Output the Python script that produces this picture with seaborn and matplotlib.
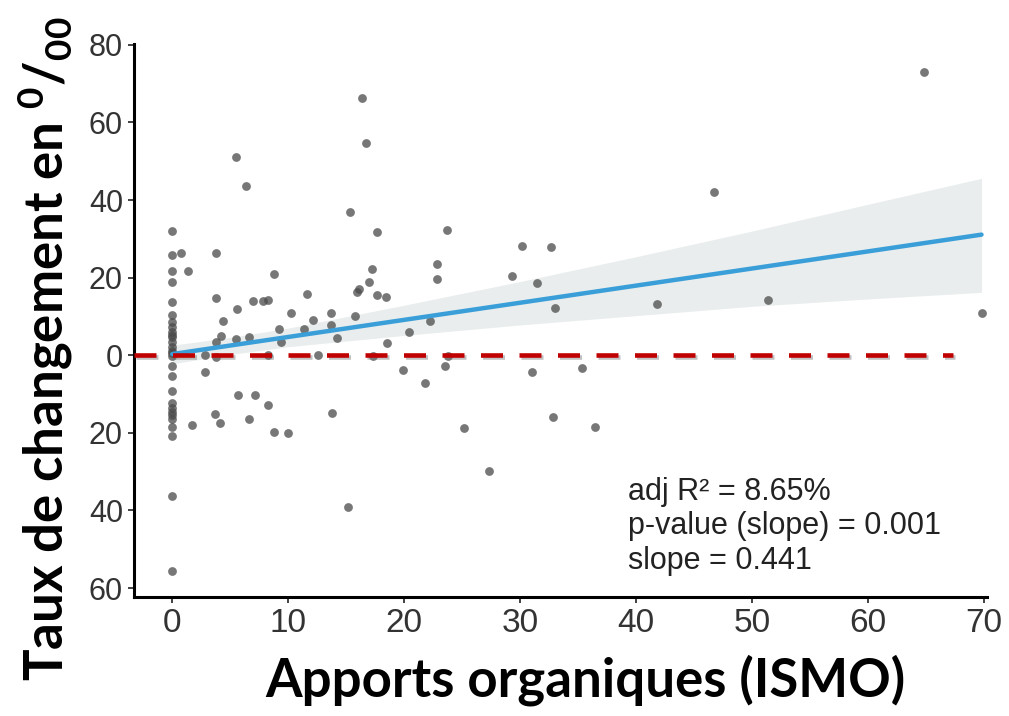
import matplotlib
matplotlib.use("Agg")
import matplotlib.pyplot as plt
import matplotlib.patheffects as pe
from matplotlib.ticker import FuncFormatter
import pandas as pd
import seaborn as sns

# Parcelles : apports organiques (ISMO) et taux de changement (pour mille)
apports = [
    0.0, 0.0, 0.0, 0.0, 0.0, 0.0, 0.0, 0.0, 0.0, 0.0, 0.0, 0.0, 0.0, 0.0,
    0.0, 0.0, 0.0, 0.0, 0.0, 0.0, 0.0, 0.0, 0.0, 0.0, 0.0, 0.0, 0.0, 0.0,
    0.75, 1.4, 1.7, 2.8, 2.8, 3.8, 5.5, 6.4, 3.8, 5.6, 7.0, 7.8, 8.3, 8.8,
    10.2, 11.6, 12.1, 13.7, 13.7, 15.8, 15.3, 16.4, 16.7, 17.7, 17.2, 17.0,
    16.1, 15.9, 17.7, 18.4, 4.4, 4.2, 3.8, 5.5, 6.6, 9.2, 9.4, 11.4, 14.2,
    18.5, 20.4, 22.2, 3.8, 8.3, 12.6, 17.3, 19.9, 21.8, 5.7, 7.1, 8.3, 3.7,
    4.1, 6.6, 8.8, 10.0, 13.8, 15.2, 23.7, 22.8, 22.8, 23.5, 23.8, 25.2,
    27.3, 30.2, 32.7, 29.3, 31.5, 33.0, 31.0, 35.3, 32.8, 36.5, 41.8, 46.7,
    64.8, 51.4, 69.8,
]
taux = [
    32.0, 25.9, 21.6, 19.0, 13.7, 10.3, 8.5, 7.3, 6.0, 5.3, 4.7, 3.4, 2.1,
    1.2, 0.5, -0.2, -2.7, -5.3, -9.3, -12.3, -13.5, -14.6, -15.5, -16.5,
    -18.6, -20.8, -36.2, -55.5,
    26.3, 21.6, -18.0, -4.3, 0.0, 26.3, 51.0, 43.6, 14.7, 11.8, 13.9, 13.9,
    14.3, 20.9, 11.0, 15.9, 9.1, 11.0, 7.7, 10.2, 36.8, 66.3, 54.8, 31.7,
    22.3, 18.9, 17.2, 16.3, 15.4, 14.9, 8.9, 5.0, 3.4, 4.1, 4.6, 6.7, 3.4,
    6.8, 4.5, 3.2, 6.0, 8.8, -0.4, 0.0, 0.0, -0.2, -3.7, -7.1, -10.2, -10.2,
    -12.8, -15.1, -17.4, -16.4, -19.9, -20.1, -14.9, -39.2, 32.3, 23.5,
    19.6, -2.8, -0.1, -18.7, -29.9, 28.1, 27.9, 20.3, 18.5, 12.1, -4.3,
    -3.3, -16.0, -18.4, 13.3, 42.0, 73.1, 14.3, 10.8,
]

# Ajustement linéaire et statistiques
pente = 0.441
ordonnee = 0.3
r2_ajuste = 8.65
p_valeur = 0.001

# Intervalle de confiance de la droite
bande_x = [0, 5, 10, 20, 30, 40, 50, 60, 69.8]
bande_basse = [-2.2, 0.2, 2.2, 5.1, 7.8, 10.2, 12.6, 14.5, 16.2]
bande_haute = [2.6, 4.6, 7.0, 12.9, 19.0, 25.4, 32.0, 38.9, 45.6]

graduations_x = [0, 10, 20, 30, 40, 50, 60, 70]
graduations_y = [-60, -40, -20, 0, 20, 40, 60, 80]

sns.set_theme(style="ticks")
plt.rcParams["font.family"] = ["Liberation Sans", "DejaVu Sans"]
plt.rcParams["mathtext.fontset"] = "custom"
plt.rcParams["mathtext.rm"] = "Lato:bold"
plt.rcParams["mathtext.it"] = "Lato:bold"
plt.rcParams["mathtext.bf"] = "Lato:bold"

df = pd.DataFrame({"apports": apports, "taux": taux})

fig = plt.figure(figsize=(10.09, 7.16), dpi=100)
ax = fig.add_axes([0.1328, 0.1662, 0.8457, 0.7723])

# Bande de confiance
ax.fill_between(bande_x, bande_basse, bande_haute, color="#e9eded",
                alpha=0.95, linewidth=0, zorder=1)

# Points
sns.scatterplot(data=df, x="apports", y="taux", ax=ax, color="#4a4a4a",
                alpha=0.75, s=40, linewidth=0, zorder=3, legend=False)

# Droite de régression
x_min, x_max = min(apports), max(apports)
droite = pd.DataFrame({"x": [x_min, x_max],
                       "y": [ordonnee + pente * x_min, ordonnee + pente * x_max]})
sns.lineplot(data=droite, x="x", y="y", ax=ax, color="#3a9fd8", linewidth=3.2,
             zorder=4)

# Ligne de référence à zéro
ax.axhline(0, xmin=0, xmax=0.96, color="#c00000", linewidth=3.3,
           linestyle=(0, (4.8, 3.6)), dash_capstyle="butt", zorder=5,
           path_effects=[pe.SimpleLineShadow(offset=(1.2, -1.6),
                                             shadow_color="#777777", alpha=0.45),
                         pe.Normal()])

ax.set_xlim(-3.3, 70.3)
ax.set_ylim(-62.3, 80.2)
ax.set_xticks(graduations_x)
ax.set_yticks(graduations_y)
ax.yaxis.set_major_formatter(FuncFormatter(lambda v, _: f"{abs(int(v))}"))

for side in ("top", "right"):
    ax.spines[side].set_visible(False)
for side in ("left", "bottom"):
    ax.spines[side].set_linewidth(2.2)
    ax.spines[side].set_color("black")

ax.tick_params(axis="both", direction="out", length=4, width=1.3,
               color="#333333", pad=4)
ax.tick_params(axis="y", labelsize=22, labelcolor="#333333")
ax.tick_params(axis="x", labelsize=24, labelcolor="#333333")

ax.set_xlabel("Apports organiques (ISMO)", fontsize=38, fontweight="bold",
              fontfamily=["Lato", "DejaVu Sans"], color="black")
ax.xaxis.set_label_coords(0.529, -0.15)
ax.xaxis.label.set_va("center")

ax.set_ylabel(r"Taux de changement en $^{0}/_{00}$", fontsize=38,
              fontweight="bold", fontfamily=["Lato", "DejaVu Sans"],
              color="black")
ax.yaxis.set_label_coords(-0.104, 0.45)
ax.yaxis.label.set_va("center")

ax.text(0.579, 0.128,
        f"adj R² = {r2_ajuste}%\np-value (slope) = {p_valeur}\nslope = {pente}",
        transform=ax.transAxes, fontsize=22, color="#222222",
        ha="left", va="center", linespacing=1.2)

fig.savefig("out.png", dpi=100, facecolor="white")
